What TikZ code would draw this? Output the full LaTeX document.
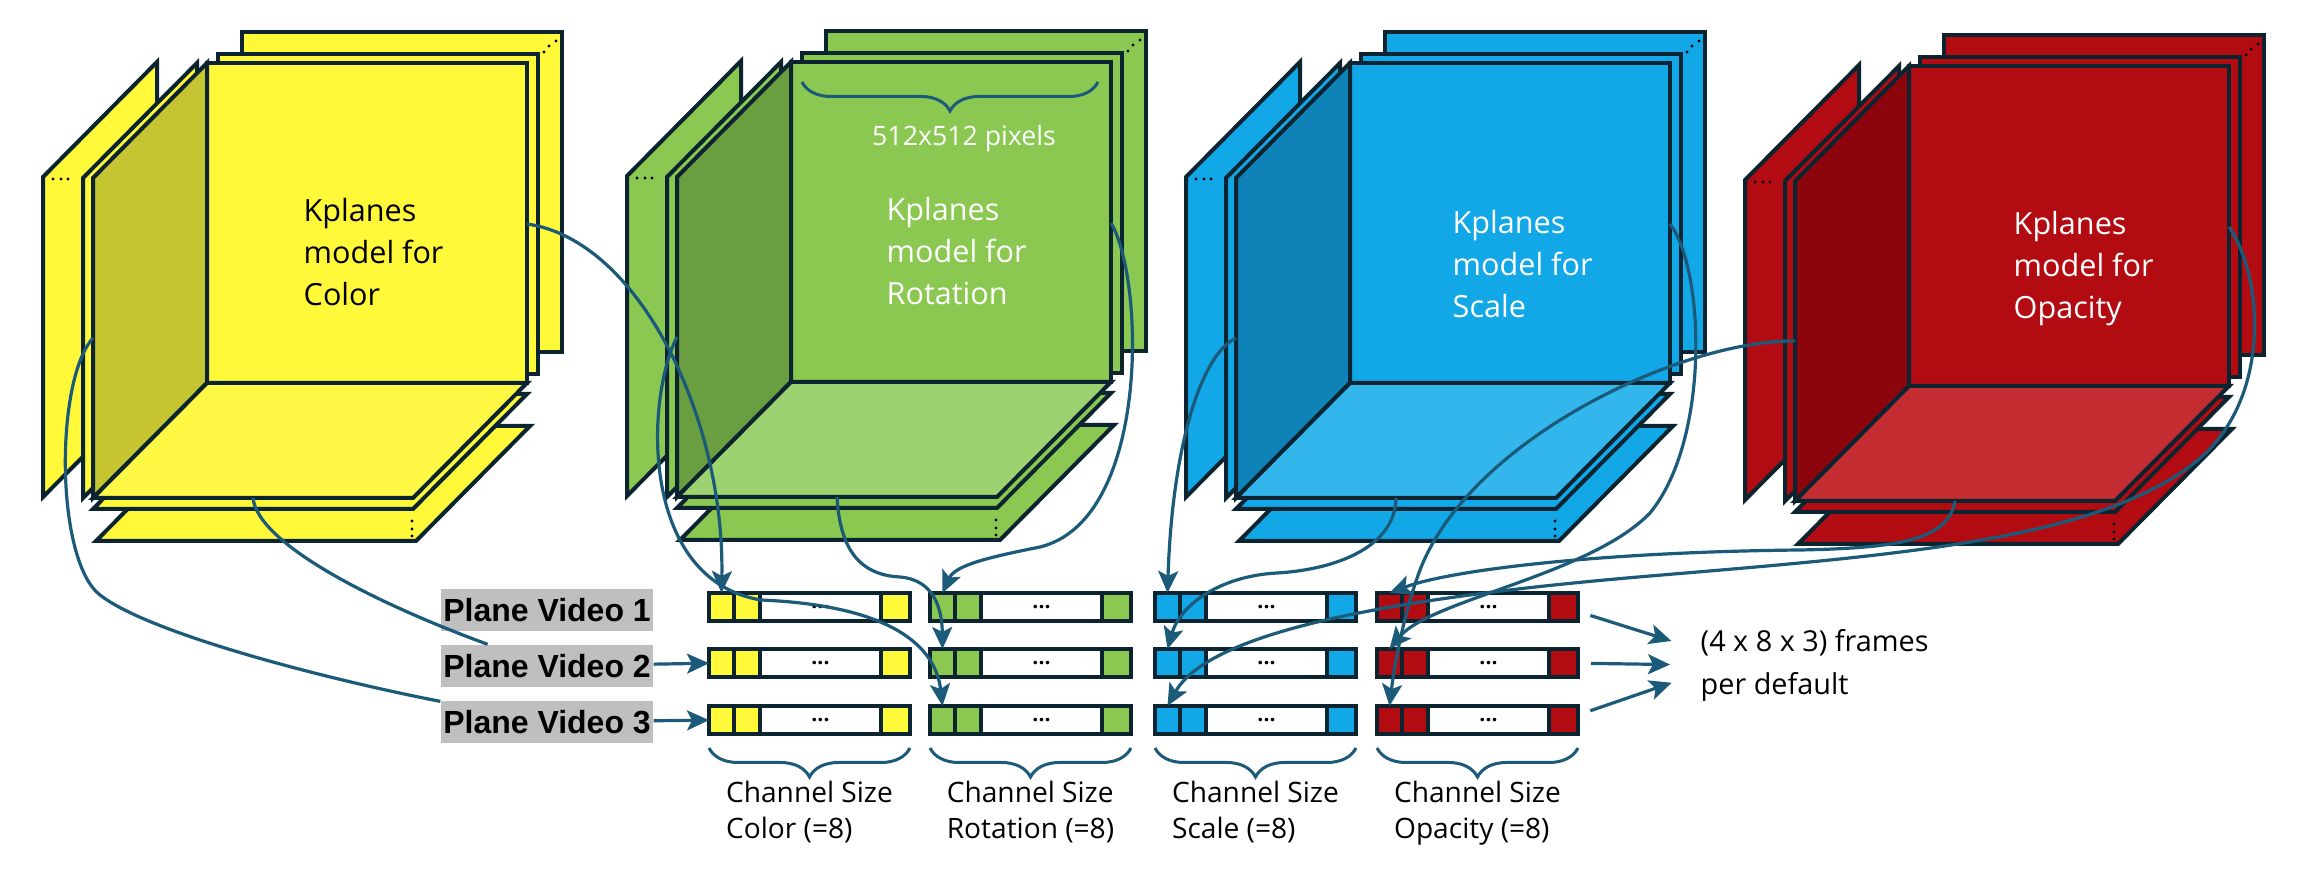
\documentclass[tikz,border=0pt]{standalone}
\usepackage{fontspec}
\setmainfont{Open Sans}
\newfontfamily\lblfont{Liberation Sans}
\usetikzlibrary{positioning,arrows.meta,decorations.pathreplacing}

\definecolor{outl}{HTML}{0B2430}
\definecolor{arrc}{HTML}{1C5A7A}
\definecolor{lblGray}{HTML}{BFBFBF}
\definecolor{yelMain}{HTML}{FFF93A}
\definecolor{yelWall}{HTML}{C4C530}
\definecolor{yelFloor}{HTML}{FFF845}
\definecolor{grnMain}{HTML}{8BC851}
\definecolor{grnWall}{HTML}{6B9D41}
\definecolor{grnFloor}{HTML}{9CD270}
\definecolor{bluMain}{HTML}{12A8E8}
\definecolor{bluWall}{HTML}{0F82B8}
\definecolor{bluFloor}{HTML}{32B6EC}
\definecolor{redMain}{HTML}{B30B12}
\definecolor{redWall}{HTML}{8C050C}
\definecolor{redFloor}{HTML}{C32D31}

\tikzset{
  slab/.style={draw=outl, line width=0.4mm},
  barcell/.style={draw=outl, line width=0.4mm, minimum height=2.8mm, inner sep=0pt, outer sep=0pt},
  lnk/.style={draw=arrc, line width=0.32mm},
  arr/.style={lnk, -{Stealth[length=2.2mm,width=2mm,inset=0.5mm]}},
  brc/.style={draw=arrc, line width=0.3mm, decorate, decoration={brace, mirror, amplitude=2.9mm}},
  cubetxt/.style={inner sep=0pt, align=left, font=\fontsize{8.7}{11.95}\selectfont},
  vidlbl/.style={fill=lblGray, minimum width=21.2mm, minimum height=4.2mm, inner sep=0pt, font=\lblfont\bfseries\fontsize{9.1}{11}\selectfont},
  chtxt/.style={inner sep=0pt, align=left, font=\fontsize{8}{10.2}\selectfont},
}

\begin{document}
\begin{tikzpicture}[x=0.1mm, y=-0.1mm]
  \useasboundingbox (0,0) rectangle (2301,889);

  % the four Kplanes stacks
  \foreach \X/\Y/\nm/\fmain/\fwall/\ffloor/\tcol/\tx/\ty/\what in {
      207/63/yel/yelMain/yelWall/yelFloor/black/96/135/Color,
      791/62/grn/grnMain/grnWall/grnFloor/white/95/135/Rotation,
      1350/63/blu/bluMain/bluWall/bluFloor/white/102/147/Scale,
      1909/66/red/redMain/redWall/redFloor/white/104/145/Opacity}
  {
    \begin{scope}[shift={(\X,\Y)}]
      % planes behind
      \draw[slab, fill=\fmain] (35,-31) rectangle ++(320,320);
      \draw[slab, fill=\fmain] (11,-9) rectangle ++(320,320);
      \draw[slab, fill=\fmain] (-50,-1) -- (-50,319) -- (-164,434) -- (-164,114) -- cycle;
      \draw[slab, fill=\fmain] (-10,0) -- (-10,320) -- (-124,435) -- (-124,115) -- cycle;
      \draw[slab, fill=\fmain] (3,363) -- (323,363) -- (209,478) -- (-111,478) -- cycle;
      \draw[slab, fill=\fmain] (0,331) -- (320,331) -- (206,446) -- (-114,446) -- cycle;
      % front corner
      \draw[slab, fill=\fmain] (0,0) rectangle (320,320);
      \draw[slab, fill=\fwall] (0,0) -- (0,320) -- (-114,435) -- (-114,115) -- cycle;
      \draw[slab, fill=\ffloor] (0,320) -- (320,320) -- (206,435) -- (-114,435) -- cycle;
      % dots
      \foreach \dx/\dy in {-154/116,-146/116,-139/116,337/-11,342/-17,349/-22,205/458,205/466,205/473}
        \fill[black] (\dx,\dy) circle (0.17mm);
      \node[cubetxt, text=\tcol, anchor=north west] (\nm-txt) at (\tx,\ty) {Kplanes\\model for\\\what};
      \coordinate (\nm-front) at (320,161);
      \coordinate (\nm-floor) at (46,435);
      \coordinate (\nm-wall) at (-114,275);
    \end{scope}
  }

  \draw[brc] (802,82) -- (1098,82)
    node[midway, below=4.2mm, xshift=1.4mm, inner sep=0pt, text=white, font=\fontsize{7.6}{9}\selectfont] (px) {512x512 pixels};

  % channel bars
  \foreach \bc/\bx/\fc in {y/709/yelMain, g/930/grnMain, b/1155/bluMain, r/1377/redMain}
  {
    \foreach \rw/\by in {1/607, 2/663, 3/720}
    {
      \node[barcell, fill=\fc, minimum width=2.5mm, anchor=west] (\bc-\rw-a) at (\bx,\by) {};
      \node[barcell, fill=\fc, minimum width=2.6mm, right=0pt of \bc-\rw-a] (\bc-\rw-b) {};
      \node[barcell, fill=white, minimum width=12.1mm, right=0pt of \bc-\rw-b,
            font=\bfseries\fontsize{6}{6}\selectfont] (\bc-\rw-m) {...};
      \node[barcell, fill=\fc, minimum width=2.9mm, right=0pt of \bc-\rw-m] (\bc-\rw-e) {};
    }
  }

  % braces with channel sizes
  \draw[brc] ([yshift=-1.4mm]y-3-a.south west) -- ([yshift=-1.4mm]y-3-e.south east)
    node[midway, below=3.2mm, chtxt] (y-size) {Channel Size\\Color (=8)};
  \draw[brc] ([yshift=-1.4mm]g-3-a.south west) -- ([yshift=-1.4mm]g-3-e.south east)
    node[midway, below=3.2mm, chtxt] (g-size) {Channel Size\\Rotation (=8)};
  \draw[brc] ([yshift=-1.4mm]b-3-a.south west) -- ([yshift=-1.4mm]b-3-e.south east)
    node[midway, below=3.2mm, chtxt] (b-size) {Channel Size\\Scale (=8)};
  \draw[brc] ([yshift=-1.4mm]r-3-a.south west) -- ([yshift=-1.4mm]r-3-e.south east)
    node[midway, below=3.2mm, chtxt] (r-size) {Channel Size\\Opacity (=8)};

  % plane video labels
  \node[vidlbl] (lab1) at (547,610) {Plane Video 1};
  \node[vidlbl] (lab2) at (547,666) {Plane Video 2};
  \node[vidlbl] (lab3) at (547,722) {Plane Video 3};

  \node[anchor=west, inner sep=0pt, align=left, font=\fontsize{8.2}{12.2}\selectfont] (frames) at (1700,665)
    {(4 x 8 x 3) frames\\per default};

  % yellow
  \draw[arr] (yel-front) .. controls (640,240) and (725,420) .. (y-1-a.north);
  \draw[lnk] (yel-floor) .. controls (258,545) and (380,605) .. (lab2);
  \draw[lnk] (yel-wall) .. controls (55,380) and (55,560) .. (100,595) .. controls (150,634) and (330,680) .. (lab3);
  \draw[arr] (lab2) -- (y-2-a);
  \draw[arr] (lab3) -- (y-3-a);
  % green
  \draw[arr] (grn-front) .. controls (1145,280) and (1150,520) .. (1040,547) .. controls (990,557) and (955,565) .. (g-1-a.north);
  \draw[arr] (grn-floor) .. controls (840,550) and (860,575) .. (900,577) .. controls (935,580) and (942,610) .. (g-2-a.north);
  \draw[arr] (grn-wall) .. controls (645,400) and (640,580) .. (761,600) .. controls (880,605) and (935,640) .. (g-3-a.north);
  % blue
  \draw[arr] (blu-wall) .. controls (1200,355) and (1172,450) .. (b-1-a.north);
  \draw[arr] (blu-floor) .. controls (1395,550) and (1330,570) .. (1277,573) .. controls (1220,576) and (1180,605) .. (b-2-a.north);
  \draw[arr] (blu-front) .. controls (1705,270) and (1710,440) .. (1650,513) .. controls (1590,575) and (1430,600) .. (r-2-a.north);
  % red
  \draw[arr] (red-floor) .. controls (1948,540) and (1900,548) .. (1800,550) .. controls (1600,552) and (1450,570) .. (r-1-a.north);
  \draw[arr] (red-wall) .. controls (1680,340) and (1470,440) .. (1420,570) .. controls (1405,610) and (1395,660) .. (r-3-a.north);
  \draw[arr] (red-front) .. controls (2265,280) and (2270,400) .. (2198,460) .. controls (2100,540) and (1900,555) .. (1650,576) .. controls (1400,597) and (1210,630) .. (b-3-a.north);

  % to the frame count
  \draw[arr, shorten <=1.3mm, shorten >=3mm] (r-1-e) -- ([yshift=1.5mm]frames.west);
  \draw[arr, shorten <=1.3mm, shorten >=3mm] (r-2-e) -- (frames.west);
  \draw[arr, shorten <=1.3mm, shorten >=3mm] (r-3-e) -- ([yshift=-0.8mm]frames.west);
\end{tikzpicture}
\end{document}
